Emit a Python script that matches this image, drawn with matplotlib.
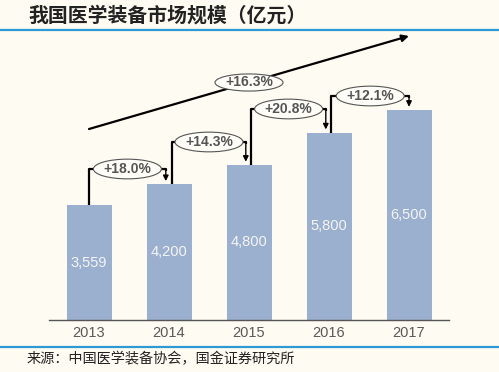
import matplotlib
matplotlib.use('Agg')
import matplotlib.pyplot as plt
from matplotlib.patches import Ellipse

years = ['2013', '2014', '2015', '2016', '2017']
market_size = [3559, 4200, 4800, 5800, 6500]
value_labels = ['3,559', '4,200', '4,800', '5,800', '6,500']
growth_labels = ['+18.0%', '+14.3%', '+20.8%', '+12.1%']
cagr_label = '+16.3%'

title = '我国医学装备市场规模（亿元）'
source = '来源：中国医学装备协会，国金证券研究所'

bg = '#FEFCF2'
bar_color = '#9BAFCE'
line_blue = '#2B9AD6'
px_per_unit = 0.0323

plt.rcParams['font.family'] = ['Liberation Sans', 'DejaVu Sans']

fig = plt.figure(figsize=(4.99, 3.72), dpi=100, facecolor=bg)
ax = fig.add_axes([49 / 499, 52 / 372, 400 / 499, 290 / 372])
ax.set_facecolor(bg)
ax.set_xlim(-0.5, 4.5)
ax.set_ylim(0, 290 / px_per_unit)

x = list(range(len(years)))
ax.bar(x, market_size, width=0.5625, color=bar_color, zorder=2)
for i, v in enumerate(market_size):
    ax.text(i, v / 2, value_labels[i], ha='center', va='center',
            color='#F4F4F4', fontsize=10.5, zorder=3)

# brackets with growth rates between bars
lefts = [0.0, 1.04, 2.03, 3.03]
rights = [0.96, 1.96, 2.96, 4.0]
tops = [4675, 5511, 6533, 6935]
for i, lab in enumerate(growth_labels):
    l, r, t = lefts[i], rights[i], tops[i]
    ax.plot([l, l, r, r], [market_size[i], t, t, t - 60], color='black',
            lw=1.6, solid_capstyle='butt', zorder=3)
    ax.annotate('', xy=(r, market_size[i + 1] + 100), xytext=(r, t),
                arrowprops=dict(arrowstyle='-|>', color='black', lw=1.0,
                                mutation_scale=8, shrinkA=0, shrinkB=0),
                zorder=3)
    cx = (l + r) / 2
    ax.add_patch(Ellipse((cx, t), 0.85, 610, facecolor='#FEFDF8',
                         edgecolor='#555555', lw=0.8, zorder=4))
    ax.text(cx, t, lab, ha='center', va='center', color='#555555',
            fontsize=10, fontweight='bold', zorder=5)

# overall trend arrow
start = (0.0, 5913)
end = (4.0, 8793)
ax.annotate('', xy=end, xytext=start,
            arrowprops=dict(arrowstyle='-|>', color='black', lw=1.6,
                            mutation_scale=10, shrinkA=0, shrinkB=0),
            zorder=3)
mid = ((start[0] + end[0]) / 2, (start[1] + end[1]) / 2)
ax.add_patch(Ellipse(mid, 0.85, 530, facecolor='#FEFDF8',
                     edgecolor='#555555', lw=0.8, zorder=4))
ax.text(mid[0], mid[1], cagr_label, ha='center', va='center', color='#555555',
        fontsize=10, fontweight='bold', zorder=5)

ax.set_xticks(x)
ax.set_xticklabels(years, fontsize=10.5, color='#595959')
ax.tick_params(axis='x', length=0, pad=4)
ax.set_yticks([])
for s in ['top', 'left', 'right']:
    ax.spines[s].set_visible(False)
ax.spines['bottom'].set_color('#555555')
ax.spines['bottom'].set_linewidth(1.0)

fig.add_artist(plt.Line2D([0, 1], [1 - 30 / 372] * 2, color=line_blue, lw=1.6))
fig.add_artist(plt.Line2D([0, 1], [1 - 347 / 372] * 2, color=line_blue, lw=1.6))

fig.text(28 / 499, 1 - 15 / 372, title, ha='left', va='center', fontsize=14.3,
         fontweight='bold', style='italic', color='#222222',
         family=['Noto Sans CJK SC', 'DejaVu Sans'])
fig.text(27 / 499, 1 - 359 / 372, source, ha='left', va='center', fontsize=10.2,
         color='#222222', family=['Noto Sans CJK SC', 'DejaVu Sans'])

fig.savefig('out.png', dpi=100, facecolor=bg)
